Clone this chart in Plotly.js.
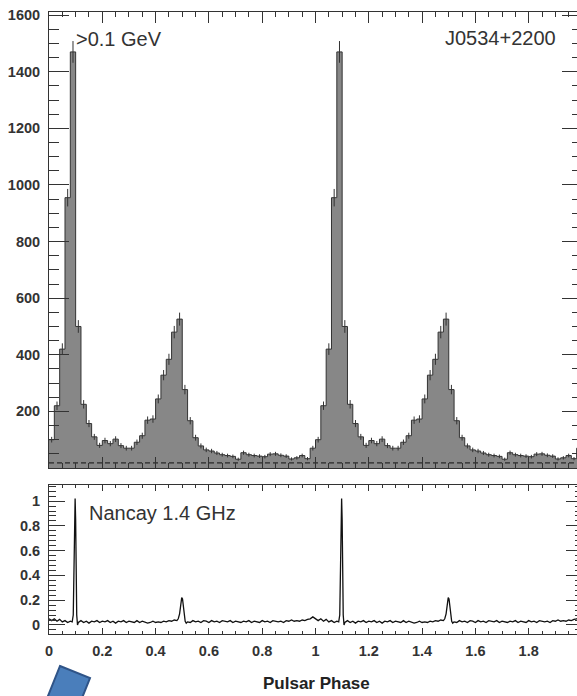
<!DOCTYPE html>
<html>
<head>
<meta charset="utf-8">
<script src="https://cdn.plot.ly/plotly-3.0.1.min.js"></script>
<style>
html,body{margin:0;padding:0;overflow:hidden;background:#fff;}
#plot{width:584px;height:696px;}
</style>
</head>
<body>
<div id="plot"></div>
<script>
// ---------- DATA ----------
// Fermi-LAT >0.1 GeV counts, 50 phase bins (width 0.02) per rotation
const binWidth = 0.02;
const gammaCounts = [100, 220, 420, 955, 1470, 500, 225, 157, 110, 80,
                     97, 86, 102, 79, 70, 70, 91, 114, 169, 173,
                     244, 328, 384, 480, 526, 277, 167, 107, 78, 64,
                     60, 53, 47, 44, 41, 31, 54, 47, 44, 42,
                     40, 49, 50, 45, 42, 32, 36, 44, 33, 70];
const backgroundLevel = 18;
const nCycles = 2;

// Nancay 1.4 GHz radio profile (normalized), one rotation
const radioPhase = [0.00,0.01,0.02,0.03,0.04,0.05,0.06,0.07,0.08,0.087,
  0.091,0.094,0.096,0.098,0.100,0.102,0.104,0.107,0.11,0.12,
  0.13,0.14,0.15,0.16,0.17,0.18,0.19,0.20,0.21,0.22,
  0.23,0.24,0.25,0.26,0.27,0.28,0.29,0.30,0.31,0.32,
  0.33,0.34,0.35,0.36,0.37,0.38,0.39,0.40,0.41,0.42,
  0.43,0.44,0.45,0.46,0.47,0.48,0.485,0.490,0.494,0.498,
  0.501,0.504,0.507,0.511,0.515,0.52,0.53,0.54,0.55,0.56,
  0.57,0.58,0.59,0.60,0.61,0.62,0.63,0.64,0.65,0.66,
  0.67,0.68,0.69,0.70,0.71,0.72,0.73,0.74,0.75,0.76,
  0.77,0.78,0.79,0.80,0.81,0.82,0.83,0.84,0.85,0.86,
  0.87,0.88,0.89,0.90,0.91,0.92,0.93,0.94,0.95,0.96,
  0.97,0.98,0.99];
const radioFlux = [0.05,0.035,0.05,0.03,0.045,0.025,0.035,0.02,0.03,0.025,
  0.08,0.45,0.88,1.02,0.85,0.40,0.08,0.00,0.02,0.035,
  0.02,0.03,0.015,0.03,0.025,0.035,0.02,0.03,0.025,0.035,
  0.02,0.03,0.015,0.03,0.025,0.035,0.02,0.03,0.025,0.02,
  0.035,0.02,0.03,0.025,0.015,0.02,0.03,0.02,0.025,0.02,
  0.03,0.025,0.035,0.03,0.04,0.035,0.05,0.09,0.16,0.22,
  0.21,0.15,0.08,0.03,0.015,0.025,0.02,0.035,0.025,0.03,
  0.02,0.035,0.03,0.02,0.035,0.025,0.03,0.02,0.035,0.03,
  0.025,0.035,0.02,0.03,0.025,0.02,0.03,0.025,0.035,0.02,
  0.03,0.025,0.02,0.035,0.025,0.03,0.02,0.035,0.03,0.025,
  0.03,0.02,0.035,0.03,0.04,0.03,0.035,0.03,0.04,0.035,
  0.045,0.05,0.065];

// Text
const gammaLabel = '>0.1 GeV';
const pulsarName = 'J0534+2200';
const radioLabel = 'Nancay 1.4 GHz';
const xTitle = 'Pulsar Phase';

// ---------- BUILD ----------
const histX = [], histY = [], centerX = [], centerY = [];
for (let c = 0; c < nCycles; c++) {
  gammaCounts.forEach((v, i) => {
    histX.push(c + i * binWidth);
    histY.push(v);
    centerX.push(c + (i + 0.5) * binWidth);
    centerY.push(v);
  });
}
histX.push(nCycles);
histY.push(gammaCounts[gammaCounts.length - 1]);

const rX = [], rY = [];
for (let c = 0; c < nCycles; c++) {
  radioPhase.forEach((p, i) => { rX.push(c + p); rY.push(radioFlux[i]); });
}
rX.push(nCycles); rY.push(radioFlux[0]);

const FONT = "'Liberation Sans', Arial, Helvetica, sans-serif";
const ink = '#333';

const traces = [
  {x: histX, y: histY, xaxis: 'x', yaxis: 'y', type: 'scatter', mode: 'lines',
   line: {shape: 'hv', color: ink, width: 1}, fill: 'tozeroy', fillcolor: '#878787',
   hoverinfo: 'skip'},
  {x: centerX, y: centerY, xaxis: 'x', yaxis: 'y', type: 'scatter', mode: 'markers',
   marker: {size: 1, opacity: 0},
   error_y: {type: 'sqrt', visible: true, color: ink, thickness: 1, width: 0},
   hoverinfo: 'skip'},
  {x: [0, nCycles], y: [backgroundLevel, backgroundLevel], xaxis: 'x', yaxis: 'y',
   type: 'scatter', mode: 'lines', line: {color: '#111', width: 1, dash: '5px,3px'},
   hoverinfo: 'skip'},
  {x: rX, y: rY, xaxis: 'x2', yaxis: 'y2', type: 'scatter', mode: 'lines',
   line: {color: '#111', width: 1.3}, hoverinfo: 'skip'}
];

// geometry helpers (pixel -> paper)
const W = 584, H = 696, ML = 49, MR = 2, MT = 12, MB = 62;
const PW = W - ML - MR, PH = H - MT - MB;
const px = v => (v - ML) / PW;
const py = v => (H - MB - v) / PH;

const tickFont = {family: FONT, size: 14.5, color: ink, weight: 'bold'};
const common = {showline: true, linecolor: ink, linewidth: 1, mirror: 'ticks',
  showgrid: false, zeroline: false, ticks: 'inside', tickcolor: ink, tickwidth: 1,
  tickfont: tickFont};

const blue = [[60,666],[90,678],[76,713],[46,701]];
const bluePath = 'M' + blue.map(p => px(p[0]).toFixed(5) + ',' + py(p[1]).toFixed(5)).join(' L') + ' Z';

const layout = {
  width: W, height: H,
  margin: {l: ML, r: MR, t: MT, b: MB},
  paper_bgcolor: '#fff', plot_bgcolor: '#fff',
  showlegend: false,
  xaxis: Object.assign({}, common, {domain: [0, 1], anchor: 'y', range: [0, 2],
    showticklabels: false, tick0: 0, dtick: 0.2, ticklen: 11,
    minor: {ticks: 'inside', dtick: 0.05, ticklen: 5, tickcolor: ink}}),
  yaxis: Object.assign({}, common, {domain: [py(468), 1], anchor: 'x', range: [0, 1611],
    tick0: 0, dtick: 200, ticklen: 20, labelalias: {'0': ''}, ticklabelstandoff: 5,
    minor: {ticks: 'inside', dtick: 50, ticklen: 10, tickcolor: ink}}),
  xaxis2: Object.assign({}, common, {domain: [0, 1], anchor: 'y2', range: [0, 2],
    tick0: 0, dtick: 0.2, ticklen: 6, labelalias: {'2': ''}, ticklabelstandoff: 4,
    minor: {ticks: 'inside', dtick: 0.05, ticklen: 3, tickcolor: ink}}),
  yaxis2: Object.assign({}, common, {domain: [0, py(485)], anchor: 'x2', range: [-0.073, 1.13],
    tick0: 0, dtick: 0.2, ticklen: 16, ticklabelstandoff: 5,
    minor: {ticks: 'inside', dtick: 0.04, ticklen: 7, tickcolor: ink}}),
  annotations: [
    {text: gammaLabel, xref: 'paper', yref: 'paper', x: px(74), y: py(39), xanchor: 'left', yanchor: 'middle',
     showarrow: false, font: {family: FONT, size: 20, color: ink}},
    {text: pulsarName, xref: 'paper', yref: 'paper', x: px(558), y: py(38), xanchor: 'right', yanchor: 'middle',
     showarrow: false, font: {family: FONT, size: 20, color: ink}},
    {text: radioLabel, xref: 'paper', yref: 'paper', x: px(87), y: py(513), xanchor: 'left', yanchor: 'middle',
     showarrow: false, font: {family: FONT, size: 20, color: ink}},
    {text: xTitle, xref: 'paper', yref: 'paper', x: px(316), y: py(683), xanchor: 'center', yanchor: 'middle',
     showarrow: false, font: {family: FONT, size: 17, color: '#222', weight: 'bold'}}
  ],
  shapes: [
    {type: 'path', xref: 'paper', yref: 'paper', path: bluePath,
     fillcolor: '#4a7ebb', line: {color: '#2f5488', width: 2}, layer: 'above'}
  ]
};

Plotly.newPlot('plot', traces, layout, {displayModeBar: false, staticPlot: true});
</script>
</body>
</html>
